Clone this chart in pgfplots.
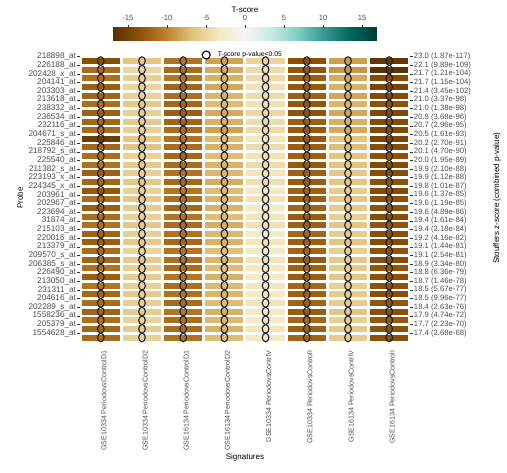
\documentclass[border=0pt]{standalone}
\usepackage{fontspec}
\setmainfont{Liberation Sans}
\usepackage{pgfplots}
\usepackage{pgfplotstable}
\pgfplotsset{compat=1.18}
\newcommand{\fs}[1]{\fontsize{#1pt}{#1pt}\selectfont}
\definecolor{g30}{RGB}{77,77,77}
\definecolor{g20}{RGB}{51,51,51}
\pgfdeclareplotmark{hbar}{\pgfpathrectangle{\pgfpoint{-19.1pt}{-3pt}}{\pgfpoint{38.2pt}{6pt}}\pgfusepathqfill}
\pgfdeclareplotmark{ell}{\pgfpathellipse{\pgfpointorigin}{\pgfpoint{3.3pt}{0pt}}{\pgfpoint{0pt}{4.3pt}}\pgfusepathqstroke}

\pgfplotstableread{
y c1 c2 c3 c4 c5 c6 c7 c8
1.5 -13.8 -6.3 -11.2 -8.3 -5.2 -13.6 -8.6 -16.2
2.5 -11.6 -5.0 -11.6 -8.0 -4.4 -13.2 -9.0 -16.6
3.5 -11.4 -5.6 -11.0 -7.6 -4.5 -12.6 -8.0 -14.0
4.5 -12.6 -5.2 -12.2 -8.1 -4.0 -13.0 -7.6 -14.6
5.5 -12.1 -5.4 -11.5 -7.4 -4.6 -12.4 -8.2 -14.1
6.5 -11.5 -6.1 -12.0 -7.1 -4.1 -13.1 -7.4 -13.6
7.5 -12.4 -5.6 -12.6 -8.0 -4.9 -13.4 -8.1 -14.4
8.5 -12.0 -6.0 -12.1 -7.6 -4.4 -12.6 -7.6 -14.0
9.5 -11.6 -5.6 -11.6 -8.4 -4.6 -13.0 -8.0 -14.2
10.5 -15.6 -6.1 -11.2 -7.1 -3.6 -13.1 -6.6 -14.6
11.5 -12.1 -6.5 -11.6 -7.6 -4.5 -12.6 -7.0 -14.0
12.5 -11.5 -5.5 -12.0 -7.0 -4.0 -12.5 -6.5 -13.5
13.5 -11.2 -6.0 -11.5 -7.5 -4.5 -13.0 -6.6 -14.1
14.5 -12.5 -5.6 -11.2 -7.2 -3.6 -12.5 -6.1 -13.8
15.5 -12.0 -6.2 -11.8 -7.8 -4.2 -12.8 -6.4 -13.5
16.5 -13.0 -5.4 -11.0 -7.0 -3.4 -12.4 -5.8 -14.0
17.5 -11.6 -6.0 -11.4 -7.4 -3.8 -12.6 -6.2 -13.6
18.5 -12.6 -5.8 -11.8 -7.6 -3.2 -12.2 -6.0 -13.4
19.5 -11.6 -5.4 -11.0 -7.0 -3.6 -12.8 -5.6 -13.8
20.5 -11.2 -6.2 -11.6 -7.8 -4.0 -12.4 -6.2 -13.2
21.5 -12.2 -5.6 -11.2 -7.2 -3.0 -12.0 -5.8 -13.6
22.5 -12.6 -6.0 -11.8 -7.6 -3.6 -12.6 -6.4 -14.0
23.5 -11.6 -5.2 -11.0 -6.8 -3.2 -12.2 -5.6 -13.4
24.5 -12.0 -6.0 -11.4 -7.4 -3.8 -12.8 -6.0 -13.8
25.5 -11.2 -5.6 -11.6 -7.0 -3.4 -12.4 -5.8 -13.2
26.5 -12.6 -5.8 -11.0 -7.6 -3.0 -12.6 -6.2 -13.6
27.5 -11.0 -5.4 -11.4 -7.2 -3.6 -12.0 -5.6 -13.4
28.5 -12.0 -6.0 -11.2 -7.4 -3.2 -12.4 -6.0 -13.8
29.5 -11.6 -5.6 -11.6 -7.0 -3.8 -12.2 -5.8 -13.2
30.5 -12.2 -5.8 -11.0 -7.6 -3.4 -12.6 -6.2 -13.6
31.5 -11.4 -5.2 -11.4 -7.2 -3.0 -12.0 -5.6 -13.0
32.5 -12.0 -5.8 -11.6 -7.6 -3.6 -12.4 -6.0 -13.4
33.5 -11.6 -5.4 -11.2 -7.0 -3.2 -12.2 -5.8 -13.6
}\tdata

\begin{document}
\begin{tikzpicture}
\useasboundingbox (-80.2pt,-129pt) rectangle (426.8pt,344pt);
\begin{axis}[
  name=main,
  scale only axis, width=329.6pt, height=291.6pt,
  xmin=0.5, xmax=8.5, ymin=0.5, ymax=34.25, y dir=reverse,
  clip=false,
  axis x line*=bottom, axis y line*=left,
  axis line style={draw=none},
  colormap={brbg}{rgb255=(84,48,5) rgb255=(140,81,10) rgb255=(191,129,45) rgb255=(223,194,125) rgb255=(246,232,195) rgb255=(245,245,245) rgb255=(199,234,229) rgb255=(128,205,193) rgb255=(53,151,143) rgb255=(1,102,94) rgb255=(0,60,48)},
  point meta min=-16.9, point meta max=16.9,
  xtick={1,...,8},
  xticklabels={GSE10334 PeriodovsControlD1, GSE10334 PeriodovsControlD2, GSE16134 PeriodovsControlD1, GSE16134 PeriodovsControlD2, GSE10334 PeriodovsContrlV, GSE10334 PeriodovsControlI, GSE16134 PeriodovsContrlV, GSE16134 PeriodovsControlI},
  ytick={1,...,33},
  yticklabels={218898\_at, 226188\_at, 202428\_x\_at, 204141\_at, 203303\_at, 213618\_at, 238332\_at, 236534\_at, 232116\_at, 204671\_s\_at, 225846\_at, 218792\_s\_at, 225540\_at, 211382\_s\_at, 223193\_x\_at, 224345\_x\_at, 203961\_at, 202967\_at, 223694\_at, 31874\_at, 215103\_at, 220016\_at, 213379\_at, 209570\_s\_at, 206385\_s\_at, 226490\_at, 213050\_at, 231311\_at, 204616\_at, 202289\_s\_at, 1558236\_at, 205379\_at, 1554628\_at},
  tick align=outside, major tick length=3pt,
  xtick style={draw=none},
  ytick style={g20, line width=0.5pt},
  xticklabel style={rotate=90, anchor=east, font=\fs{7.1}, text=g30, yshift=-3pt},
  yticklabel style={font=\fs{8.2}, text=g30, inner sep=1pt},
  xlabel={Signatures}, ylabel={Probe},
  xlabel style={at={(axis description cs:0.5,-0.389)}, anchor=center, font=\fs{8}},
  ylabel style={at={(axis description cs:-0.1826,0.5)}, anchor=center, font=\fs{8}},
  colorbar horizontal,
  colorbar style={
    at={(parent axis.north)}, anchor=south, yshift=20.4pt,
    scale only axis, width=264pt, height=13pt,
    xtick={-15,-10,-5,0,5,10,15},
    xtick pos=right, xticklabel pos=right,
    tick align=outside, major tick length=3pt,
    xtick style={g20, line width=0.5pt},
    xticklabel style={font=\fs{7.6}, text=g30, /pgf/number format/assume math mode=true},
    axis line style={draw=none},
    title={T-score},
    title style={at={(0.5,1)}, anchor=center, yshift=11.4pt, font=\fs{8}},
  },
  legend style={at={(0.368,0.991)}, anchor=west, draw=none, fill=none, font=\fs{6.8}, inner sep=0pt, column sep=5pt},
]
\pgfplotsinvokeforeach{1,...,8}{
  \addplot[forget plot, scatter, only marks, mark=hbar, point meta=explicit,
    scatter/use mapped color={draw=mapped color, fill=mapped color}]
    table[x expr=#1, y=y, meta=c#1] {\tdata};
}
\pgfplotsinvokeforeach{1,...,8}{
  \addplot[forget plot, only marks, mark=ell, mark options={draw=black!88, line width=1.1pt}]
    table[x expr=#1, y=y] {\tdata};
}
\addlegendimage{legend image code/.code={\draw[black, line width=1.1pt] (0pt,0pt) circle (4pt);}}
\addlegendentry{T-score p-value<0.05}
\end{axis}
\begin{axis}[
  at={(main.south west)}, anchor=south west,
  scale only axis, width=329.6pt, height=291.6pt,
  xmin=0.5, xmax=8.5, ymin=0.5, ymax=34.25, y dir=reverse,
  axis x line=none, axis y line*=right,
  axis line style={draw=none},
  ytick={1,...,33},
  yticklabels={23.0 (1.87e-117), 22.1 (9.89e-109), 21.7 (1.21e-104), 21.7 (1.15e-104), 21.4 (3.45e-102), 21.0 (3.37e-98), 21.0 (1.38e-98), 20.8 (3.68e-96), 20.7 (2.96e-95), 20.5 (1.61e-93), 20.2 (2.70e-91), 20.1 (4.70e-90), 20.0 (1.95e-89), 19.9 (2.10e-88), 19.9 (1.12e-88), 19.8 (1.01e-87), 19.6 (1.37e-85), 19.6 (1.19e-85), 19.6 (4.89e-86), 19.4 (1.61e-84), 19.4 (2.18e-84), 19.2 (4.16e-82), 19.1 (1.44e-81), 19.1 (2.54e-81), 18.9 (3.34e-80), 18.8 (6.36e-79), 18.7 (1.46e-78), 18.5 (5.67e-77), 18.5 (9.96e-77), 18.4 (2.63e-76), 17.9 (4.74e-72), 17.7 (2.23e-70), 17.4 (2.68e-68)},
  tick align=outside, major tick length=3pt,
  ytick style={g20, line width=0.5pt},
  yticklabel style={font=\fs{7.7}, text=g30, inner sep=1pt},
  ylabel={Stouffers z-score (combined p-value)},
  ylabel style={at={(axis description cs:1.2646,0.5)}, anchor=center, font=\fs{8}},
]
\addplot[draw=none, forget plot] coordinates {(1,1)};
\end{axis}
\end{tikzpicture}
\end{document}
